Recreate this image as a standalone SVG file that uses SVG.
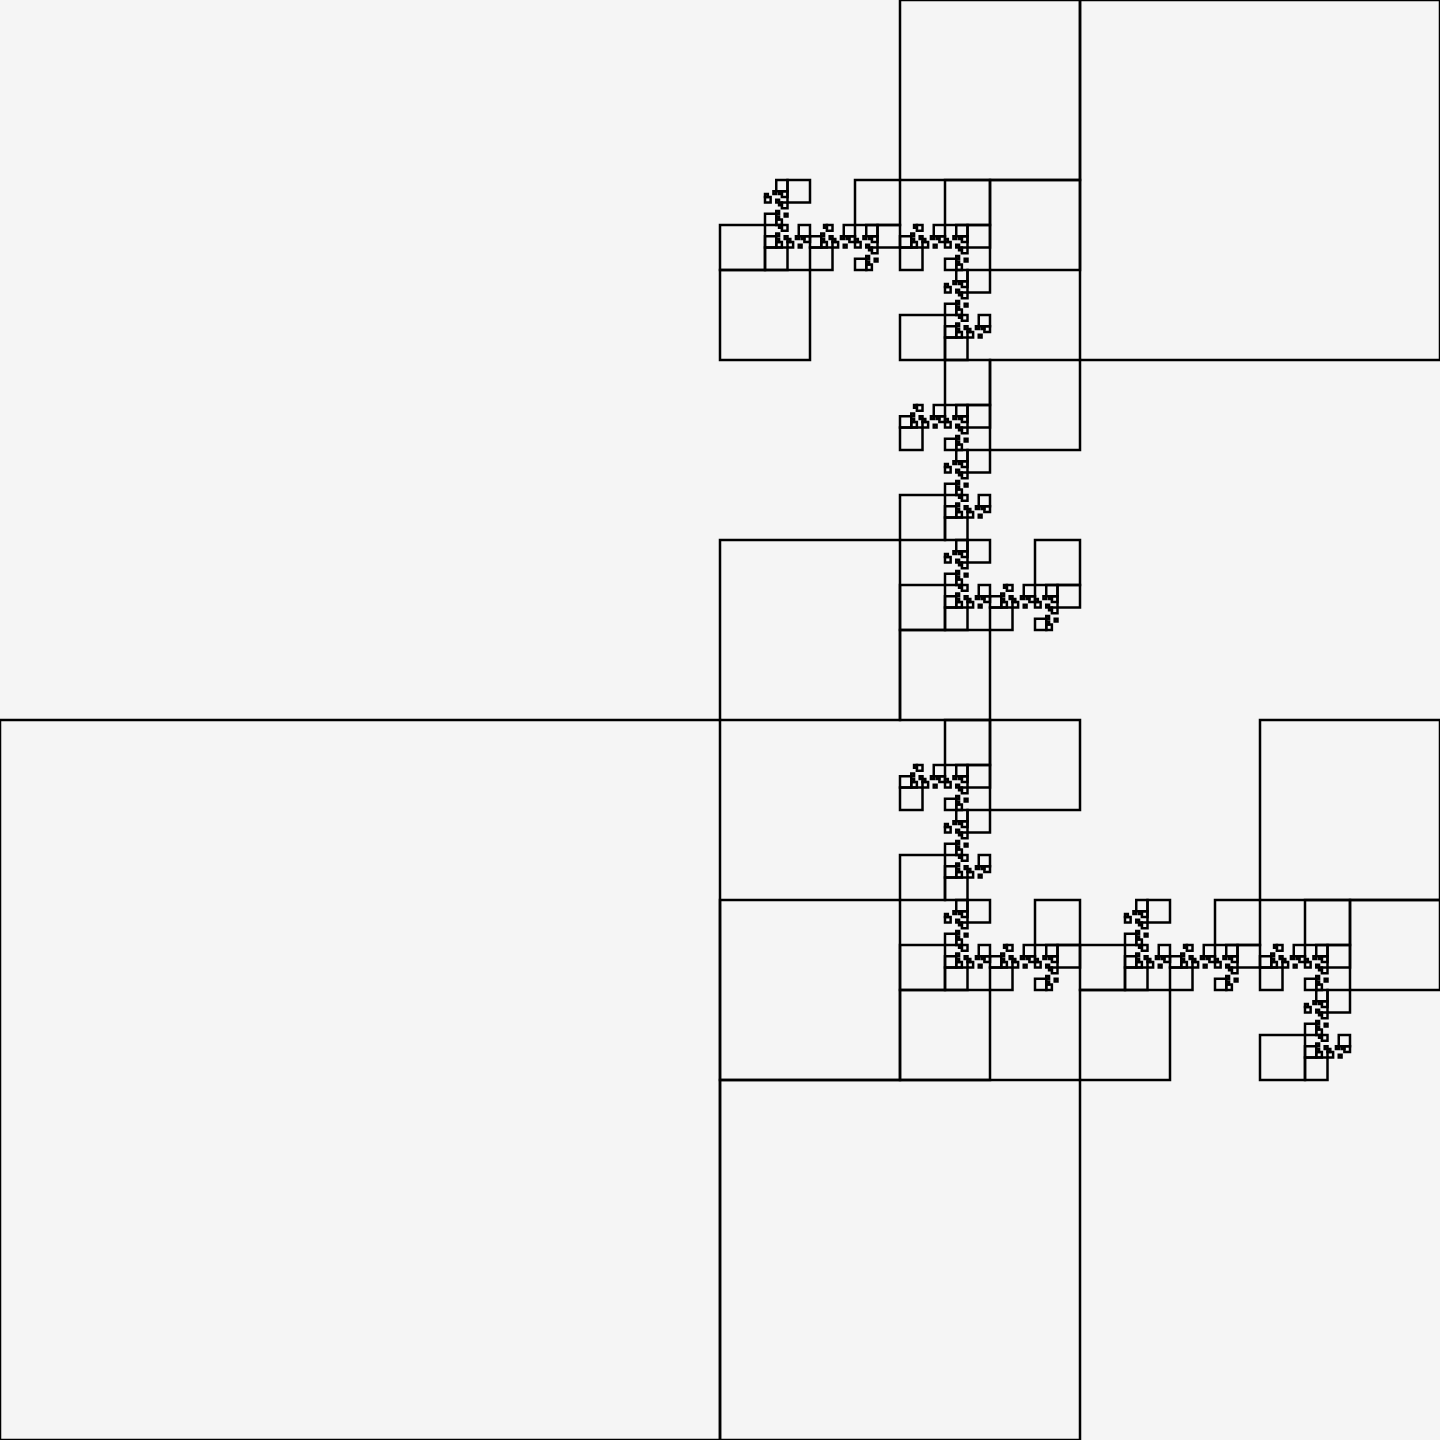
<svg xmlns="http://www.w3.org/2000/svg" xmlns:xlink="http://www.w3.org/1999/xlink" width="1440" height="1440" viewBox="0 0 1440 1440">
<style>
.leaf{fill:none;stroke:#000;stroke-width:2.5;vector-effect:non-scaling-stroke}
</style>
<defs>
<rect id="leaf" class="leaf" x="0" y="720" width="720" height="720"/>
<g id="F1"><use href="#leaf"/></g>
<g id="F2"><use href="#leaf"/><use href="#F1" transform="matrix(-0.5 0 0 -0.5 1440 720)"/><use href="#F1" transform="matrix(0 -0.5 -0.5 0 1440 1440)"/></g>
<g id="F3"><use href="#leaf"/><use href="#F2" transform="matrix(-0.5 0 0 -0.5 1440 720)"/><use href="#F2" transform="matrix(0 -0.5 -0.5 0 1440 1440)"/></g>
<g id="F4"><use href="#leaf"/><use href="#F3" transform="matrix(-0.5 0 0 -0.5 1440 720)"/><use href="#F3" transform="matrix(0 -0.5 -0.5 0 1440 1440)"/></g>
<g id="F5"><use href="#leaf"/><use href="#F4" transform="matrix(-0.5 0 0 -0.5 1440 720)"/><use href="#F4" transform="matrix(0 -0.5 -0.5 0 1440 1440)"/></g>
<g id="F6"><use href="#leaf"/><use href="#F5" transform="matrix(-0.5 0 0 -0.5 1440 720)"/><use href="#F5" transform="matrix(0 -0.5 -0.5 0 1440 1440)"/></g>
<g id="F7"><use href="#leaf"/><use href="#F6" transform="matrix(-0.5 0 0 -0.5 1440 720)"/><use href="#F6" transform="matrix(0 -0.5 -0.5 0 1440 1440)"/></g>
<g id="F8"><use href="#leaf"/><use href="#F7" transform="matrix(-0.5 0 0 -0.5 1440 720)"/><use href="#F7" transform="matrix(0 -0.5 -0.5 0 1440 1440)"/></g>
<g id="F9"><use href="#leaf"/><use href="#F8" transform="matrix(-0.5 0 0 -0.5 1440 720)"/><use href="#F8" transform="matrix(0 -0.5 -0.5 0 1440 1440)"/></g>
</defs>
<rect x="0" y="0" width="1440" height="1440" fill="#f5f5f5"/>
<g id="fractal"><use href="#F9"/></g>
</svg>
